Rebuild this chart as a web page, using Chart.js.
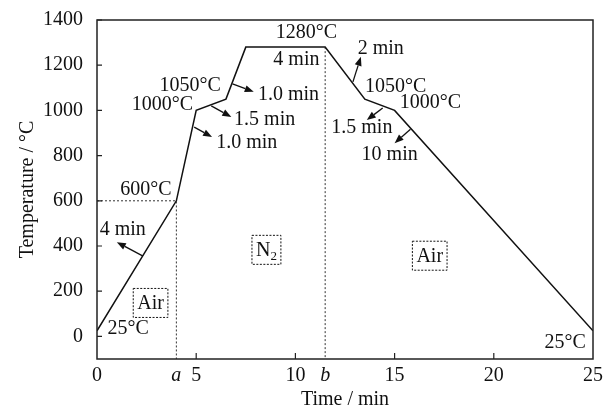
<!DOCTYPE html>
<html>
<head>
<meta charset="utf-8">
<script src="https://cdn.jsdelivr.net/npm/chart.js@4/dist/chart.umd.min.js"></script>
<style>
  html, body { margin: 0; padding: 0; background: #fff; }
  #wrap { width: 610px; height: 410px; }
</style>
</head>
<body>
<div id="wrap"><canvas id="c"></canvas></div>
<script>
// heating / cooling profile
const timeMin = [0, 4, 5, 6.5, 7.5, 11.5, 13.5, 15, 25];
const tempC = [25, 600, 1000, 1050, 1280, 1280, 1050, 1000, 25];

// dotted guide lines (stage boundaries a and b)
const guideATime = [0, 4, 4];
const guideATemp = [600, 600, -100];
const guideBTime = [11.5, 11.5];
const guideBTemp = [1280, -100];

const yTicks = [0, 200, 400, 600, 800, 1000, 1200, 1400];
const xTicks = [0, 4, 5, 10, 11.5, 15, 20, 25];
const xTickNames = { 4: 'a', 11.5: 'b' };

const SERIF = '"Liberation Serif", "DejaVu Serif", serif';

// text annotations, in data units
const notes = [
  { t: '600°C', x: 2.47, y: 651 },
  { t: '4 min', x: 1.3, y: 474 },
  { t: '25°C', x: 1.57, y: 35 },
  { t: '1000°C', x: 3.3, y: 1024 },
  { t: '1050°C', x: 4.7, y: 1108 },
  { t: '1.0 min', x: 7.55, y: 855 },
  { t: '1.5 min', x: 8.45, y: 957 },
  { t: '1.0 min', x: 9.65, y: 1068 },
  { t: '1280°C', x: 10.56, y: 1343 },
  { t: '4 min', x: 10.05, y: 1223 },
  { t: '2 min', x: 14.3, y: 1272 },
  { t: '1050°C', x: 15.06, y: 1104 },
  { t: '1000°C', x: 16.8, y: 1033 },
  { t: '1.5 min', x: 13.35, y: 922 },
  { t: '10 min', x: 14.75, y: 802 },
  { t: '25°C', x: 23.6, y: -27 }
];

const arrows = [
  { from: [2.32, 355], to: [1.0, 417] },
  { from: [4.9, 926], to: [5.8, 882] },
  { from: [5.76, 1020], to: [6.77, 971] },
  { from: [6.83, 1117], to: [7.9, 1082] },
  { from: [12.9, 1126], to: [13.3, 1237] },
  { from: [14.4, 1011], to: [13.6, 957] },
  { from: [15.8, 917], to: [15.0, 855] }
];

const boxes = [
  { t: 'Air', x: 2.7, y: 148 },
  { t: 'N', sub: '2', x: 8.54, y: 383 },
  { t: 'Air', x: 16.77, y: 357 }
];

function pts(xs, ys) {
  return xs.map((x, i) => ({ x: x, y: ys[i] }));
}

const decor = {
  id: 'decor',
  afterDatasetsDraw(chart) {
    const ctx = chart.ctx;
    const xs = chart.scales.x, ys = chart.scales.y;
    const a = chart.chartArea;
    const px = v => xs.getPixelForValue(v);
    const py = v => ys.getPixelForValue(v);
    ctx.save();

    // frame
    ctx.strokeStyle = '#222';
    ctx.lineWidth = 1.5;
    ctx.strokeRect(a.left, a.top, a.right - a.left, a.bottom - a.top);

    // inward tick marks
    ctx.lineWidth = 1.2;
    ctx.beginPath();
    [5, 10, 15, 20].forEach(v => {
      ctx.moveTo(px(v), a.bottom);
      ctx.lineTo(px(v), a.bottom - 6);
    });
    yTicks.forEach(v => {
      ctx.moveTo(a.left, py(v));
      ctx.lineTo(a.left + 5, py(v));
    });
    ctx.stroke();

    // text notes
    ctx.fillStyle = '#111';
    ctx.font = '20px ' + SERIF;
    ctx.textBaseline = 'middle';
    ctx.textAlign = 'center';
    notes.forEach(n => {
      ctx.fillText(n.t, px(n.x), py(n.y));
    });

    // arrows
    ctx.strokeStyle = '#111';
    ctx.lineWidth = 1.3;
    arrows.forEach(ar => {
      const x1 = px(ar.from[0]), y1 = py(ar.from[1]);
      const x2 = px(ar.to[0]), y2 = py(ar.to[1]);
      const ang = Math.atan2(y2 - y1, x2 - x1);
      const hl = 9, hw = 3.5;
      const bx = x2 - hl * Math.cos(ang), by = y2 - hl * Math.sin(ang);
      ctx.beginPath();
      ctx.moveTo(x1, y1);
      ctx.lineTo(bx, by);
      ctx.stroke();
      ctx.beginPath();
      ctx.moveTo(x2, y2);
      ctx.lineTo(bx + hw * Math.sin(ang), by - hw * Math.cos(ang));
      ctx.lineTo(bx - hw * Math.sin(ang), by + hw * Math.cos(ang));
      ctx.closePath();
      ctx.fill();
    });

    // dotted boxes
    boxes.forEach(b => {
      const cx = px(b.x), cy = py(b.y);
      ctx.font = '20px ' + SERIF;
      const w = ctx.measureText(b.t).width;
      let sw = 0;
      if (b.sub) {
        ctx.font = '13px ' + SERIF;
        sw = ctx.measureText(b.sub).width;
      }
      const tw = w + sw;
      const bw = tw + 8, bh = 29;
      ctx.setLineDash([2, 1.5]);
      ctx.lineWidth = 1;
      ctx.strokeRect(cx - bw / 2, cy - bh / 2, bw, bh);
      ctx.setLineDash([]);
      ctx.textAlign = 'left';
      ctx.font = '20px ' + SERIF;
      ctx.fillText(b.t, cx - tw / 2, cy + 1);
      if (b.sub) {
        ctx.font = '13px ' + SERIF;
        ctx.fillText(b.sub, cx - tw / 2 + w, cy + 7);
      }
    });
    ctx.restore();
  }
};

new Chart(document.getElementById('c'), {
  type: 'line',
  data: {
    datasets: [
      {
        data: pts(timeMin, tempC),
        borderColor: '#111',
        borderWidth: 1.5,
        pointRadius: 0,
        tension: 0
      },
      {
        data: pts(guideATime, guideATemp),
        borderColor: '#333',
        borderWidth: 1,
        borderDash: [2, 2],
        pointRadius: 0
      },
      {
        data: pts(guideBTime, guideBTemp),
        borderColor: '#333',
        borderWidth: 1,
        borderDash: [2, 2],
        pointRadius: 0
      }
    ]
  },
  options: {
    responsive: true,
    maintainAspectRatio: false,
    animation: false,
    layout: { padding: { left: 0, top: 20, right: 17, bottom: 0 } },
    plugins: { legend: { display: false }, tooltip: { enabled: false } },
    scales: {
      x: {
        type: 'linear',
        min: 0,
        max: 25,
        grid: { display: false, drawTicks: false },
        border: { display: false },
        afterBuildTicks: s => { s.ticks = xTicks.map(v => ({ value: v })); },
        afterFit: s => { s.height = 51; s.paddingLeft = 0; s.paddingRight = 0; },
        ticks: {
          autoSkip: false,
          maxRotation: 0,
          padding: 5,
          color: '#111',
          font: ctx => ({
            family: SERIF,
            size: 20,
            style: xTickNames[ctx.tick && ctx.tick.value] ? 'italic' : 'normal'
          }),
          callback: v => xTickNames[v] || String(v)
        },
        title: {
          display: true,
          text: 'Time / min',
          color: '#111',
          font: { family: SERIF, size: 20, lineHeight: 1 },
          padding: { top: 0, bottom: 0 }
        }
      },
      y: {
        min: -100,
        max: 1400,
        grid: { display: false, drawTicks: false },
        border: { display: false },
        afterBuildTicks: s => { s.ticks = yTicks.map(v => ({ value: v })); },
        afterFit: s => { s.width = 97; s.paddingTop = 0; s.paddingBottom = 0; },
        ticks: {
          autoSkip: false,
          padding: 14,
          color: '#111',
          font: { family: SERIF, size: 20 },
          callback: v => String(v)
        },
        title: {
          display: true,
          text: 'Temperature / °C',
          color: '#111',
          font: { family: SERIF, size: 20, lineHeight: 1 },
          padding: { top: 18, bottom: 0 }
        }
      }
    }
  },
  plugins: [decor]
});
</script>
</body>
</html>
